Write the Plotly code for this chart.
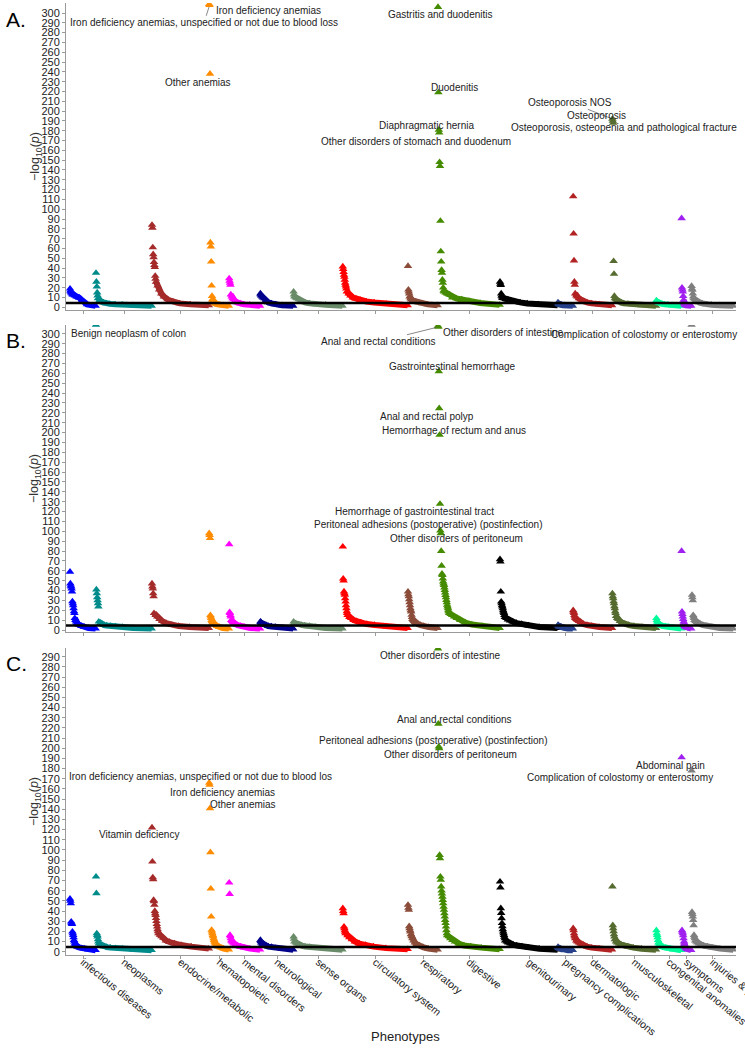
import plotly.graph_objects as go

# ---------------- data ----------------
categories = ["infectious diseases", "neoplasms", "endocrine/metabolic", "hematopoietic",
              "mental disorders", "neurological", "sense organs", "circulatory system",
              "respiratory", "digestive", "genitourinary", "pregnancy complications",
              "dermatologic", "musculoskeletal", "congenital anomalies", "symptoms",
              "injuries & poisonings"]
cat_colors = ["#0000FF", "#008B8B", "#A52A2A", "#FF8C00", "#FF00FF", "#00008B", "#698B69",
              "#FF0000", "#8B4C39", "#458B00", "#000000", "#27408B", "#B22222", "#556B2F",
              "#00FA9A", "#A020F0", "#7F7F7F"]
# number of phenotypes per category (x extent)
cat_sizes = [65, 140, 143, 50, 78, 83, 123, 163, 75, 155, 145, 38, 98, 110, 63, 25, 105]

# sorted -log10(p) of the top phenotypes per category, panel A
a_peaks = [
    [19, 17, 16],
    [35, 26, 21, 15, 12],
    [84, 81, 61, 54, 51, 46, 43, 41, 32, 29],
    [309, 308, 238, 66, 62, 46.5, 22, 11.5],
    [29.5, 27, 25, 23],
    [14, 13],
    [16, 13],
    [41.5, 39, 36, 33, 31, 28, 25, 23, 21, 19],
    [42, 18, 16, 14],
    [306, 219, 181, 178, 148, 144, 88, 57, 46.5, 38, 35, 28, 25, 20, 17],
    [26, 24, 22.7, 14, 12, 11],
    [5],
    [113, 75, 47.6, 26, 23],
    [192, 190, 188, 47, 34, 11.5],
    [7],
    [90.7, 20, 18, 16, 11.5],
    [21.7, 19, 17.7, 14, 11],
]
# remaining (tail) phenotypes, read at a fixed set of fractions through each category
a_tails = [
    [15, 14, 13, 13, 12, 11, 10, 7, 3, 1.5],
    [9, 7, 6, 5, 4, 3.5, 3, 2.5, 2, 1.5],
    [26, 22, 18, 14, 11, 8, 6, 4, 3, 2],
    [8, 7, 6, 5, 4, 3.5, 3, 2.5, 2, 1.5],
    [13, 11, 9, 8, 6, 5, 4, 3, 2.5, 1.5],
    [12, 11, 10, 9, 7, 5, 4, 3, 2, 1.5],
    [11, 10, 9, 8, 6, 5, 4, 3, 2.5, 1.5],
    [16, 14, 12, 10, 9, 7.5, 6, 5, 3.5, 2],
    [11, 9, 8, 7, 6.5, 6, 5, 4, 3, 2],
    [16, 15, 14, 13, 10, 9, 8, 6.5, 4.5, 2.5],
    [9.5, 9, 8.5, 8, 7, 6, 5, 4, 3, 2],
    [4, 3.5, 3, 3, 2.5, 2.5, 2, 2, 1.5, 1.5],
    [14, 12, 11, 9, 8, 6, 5, 4, 3, 2],
    [9, 8, 7, 6, 5, 4, 3.5, 3, 2, 1.5],
    [6, 5.5, 5, 4.5, 4, 3.5, 3, 2.5, 2, 1.5],
    [7.5, 6, 5, 4, 3, 2.5, 2, 2, 1.5, 1.5],
    [9, 8, 7, 6, 5, 4, 3, 2.5, 2, 1.5],
]

b_peaks = [
    [59, 47, 45, 44, 42, 39, 29, 27, 25, 22, 19, 17],
    [309, 41, 37, 33, 30, 27, 23.6],
    [47, 44, 42, 37, 34],
    [98, 96, 93, 15, 13.5, 12],
    [86.8, 18, 17, 15, 13.5],
    [8.4, 8],
    [8.4],
    [84.4, 52, 50, 39, 37, 35.5, 32, 28.7, 25, 22, 19, 17],
    [38.8, 36, 34, 31, 28, 25, 22, 20, 18.6, 15.3, 13],
    [308, 307, 262, 224.6, 197.6, 127.7, 100.6, 98, 80, 65, 57, 55.7, 52, 49, 47, 45.5,
     43, 40.5, 38, 35.4, 33, 30.4, 28, 25.4, 23.6, 22, 20, 18.6],
    [71.6, 69.2, 38.8, 28.7, 27, 25, 23.6, 22, 20, 18.5, 17, 15],
    [5],
    [20, 18.5, 17, 15, 13.5],
    [37, 34, 32, 29, 27, 24, 22, 19, 17],
    [12, 10, 8.4],
    [80, 18.6, 16, 13.5, 11],
    [309, 35.5, 33, 30, 15, 13.5, 12],
]
b_tails = [
    [12, 10, 8.4, 7, 6, 5, 4, 3, 2, 1.5],
    [8.4, 7, 6, 5, 4.5, 4, 3.5, 3, 2, 1.5],
    [17, 15, 13.5, 11, 9, 7, 5, 4, 3, 2],
    [10, 9, 8, 7, 6, 5, 4, 3, 2, 1.5],
    [10, 9, 8, 7, 6, 5, 4, 3, 2, 1.5],
    [7, 6.5, 6, 5.5, 5, 4, 3.5, 3, 2, 1.5],
    [7, 6.5, 6, 5.5, 5, 4.5, 4, 3, 2, 1.5],
    [15, 13, 12, 10, 9, 7.5, 6, 5, 3.5, 2],
    [11, 10, 9, 8, 7, 6, 5, 4, 3, 2],
    [17, 16, 15, 13.5, 12, 10, 7.5, 5.5, 4, 2],
    [13, 12, 10.5, 9.5, 8.5, 7, 6, 4.5, 3, 2],
    [4.5, 4, 3.5, 3.5, 3, 3, 2.5, 2, 1.5, 1.5],
    [12, 11, 10, 9, 8, 6, 5, 4, 3, 2],
    [14, 12, 11, 9, 7.5, 6, 5, 4, 3, 2],
    [7, 6, 5.5, 5, 4.5, 4, 3.5, 3, 2, 1.5],
    [8.4, 7, 6, 5, 4, 3.5, 3, 2.5, 2, 1.5],
    [10, 9, 8, 7, 6, 5, 4, 3, 2, 1.5],
]

c_peaks = [
    [52, 50, 47.5, 29.5, 28, 27, 19.7, 18, 16.4, 14, 11.5, 10, 8],
    [73.7, 57.4, 18, 16.4, 14.7, 12, 9.8],
    [122, 88.5, 73, 71, 50.8, 49.5, 46, 40, 37.7, 36, 33, 30, 27, 24.6, 22, 20],
    [166, 164, 141, 97.7, 62, 34.4, 21.4, 19.7, 18, 16.4, 15, 13],
    [67.8, 56.7, 16.4, 15, 13],
    [11.5, 10.5],
    [14.7, 12.5],
    [42.6, 40, 37.7, 24.6, 23, 21, 19.5],
    [46, 43, 41, 25, 23, 21, 19.7],
    [298, 224, 201.6, 200, 95, 91.8, 73.7, 70.5, 64, 60, 57, 54, 50.8, 47.5, 44, 41,
     37.7, 34.4, 31, 28, 24.6, 21, 18],
    [68.8, 63, 42.6, 38, 32.8, 28, 25, 22, 19.7, 18, 16.4, 14.5, 13],
    [4.5],
    [23, 21, 18, 16, 14.7],
    [64, 26, 23, 20, 17, 14.7],
    [21, 18, 16.4, 14, 11.5],
    [191, 21, 19.5, 18, 16, 13],
    [178, 39, 37, 34.4, 31, 26, 16.4, 14.5, 13],
]
c_tails = [
    [7, 6, 5.5, 5, 4.5, 4, 3.5, 3, 2, 1.5],
    [8, 7, 6, 5, 4.5, 4, 3.5, 3, 2, 1.5],
    [18, 16.5, 15, 13.5, 11, 9.5, 8, 6.5, 5, 3],
    [11.5, 10, 9, 8, 7, 6, 5, 4, 3, 2],
    [11, 10, 9, 8, 7, 6, 5, 4, 3, 2],
    [9, 8, 7.5, 7, 6, 5, 4.5, 3.5, 2.5, 2],
    [10, 9, 8, 7, 6, 5, 4.5, 3.5, 2.5, 2],
    [18, 16, 14, 12, 10, 8, 6.5, 5, 3.5, 2.5],
    [17, 15, 13, 11, 9, 7.5, 6, 4.5, 3, 2],
    [16, 15, 13, 11.5, 10, 8, 6, 5, 4, 2.5],
    [11, 10, 9, 8, 7, 6, 5, 4, 3, 2],
    [4, 3.5, 3.5, 3, 3, 2.5, 2.5, 2, 1.5, 1.5],
    [13, 11, 10, 9, 8, 6.5, 5, 4, 3, 2],
    [12, 10, 9, 8, 7, 6, 5, 4, 3, 2],
    [9, 8, 7, 6, 5, 4.5, 4, 3, 2, 1.5],
    [10, 8, 7, 6, 5, 4, 3, 2.5, 2, 1.5],
    [11, 10, 9, 8, 7, 6, 5, 4, 3, 2],
]

sig_threshold = 4.5  # Bonferroni line, -log10(0.05 / n)

# labelled phenotypes
a_labels = ["Iron deficiency anemias", "Iron deficiency anemias, unspecified or not due to blood loss",
            "Other anemias", "Gastritis and duodenitis", "Duodenitis", "Diaphragmatic hernia",
            "Other disorders of stomach and duodenum", "Osteoporosis NOS", "Osteoporosis",
            "Osteoporosis, osteopenia and pathological fracture"]
b_labels = ["Benign neoplasm of colon", "Anal and rectal conditions", "Other disorders of intestine",
            "Complication of colostomy or enterostomy", "Gastrointestinal hemorrhage",
            "Anal and rectal polyp", "Hemorrhage of rectum and anus",
            "Hemorrhage of gastrointestinal tract", "Peritoneal adhesions (postoperative) (postinfection)",
            "Other disorders of peritoneum"]
c_labels = ["Other disorders of intestine", "Anal and rectal conditions",
            "Peritoneal adhesions (postoperative) (postinfection)", "Other disorders of peritoneum",
            "Abdominal pain", "Complication of colostomy or enterostomy",
            "Iron deficiency anemias, unspecified or not due to blood los", "Iron deficiency anemias",
            "Other anemias", "Vitamin deficiency"]

# ---------------- layout helpers (positions / styles) ----------------
TAIL_FRACS = [0, 0.03, 0.06, 0.1, 0.15, 0.22, 0.32, 0.45, 0.65, 1.0]
# label text positions in data units (x = phenotype index, y = -log10 p)
a_label_pos = [(495, 303), (335, 290), (320, 229.6), (925, 298), (960, 224.5), (890, 185),
               (865, 169.5), (1250, 209), (1317, 196), (1385, 183)]
b_label_pos = [(147, 300), (772, 292), (1082, 301), (1435, 299), (957, 266.5), (892, 216),
               (960, 202.6), (860, 119.6), (895, 106.4), (965, 92.2)]
c_label_pos = [(925, 291.7), (960, 228), (907, 208), (950, 193.4), (1500, 182.6), (1375, 171),
               (327, 171.8), (382, 157), (432, 145.2), (172, 114.8)]
# labels with a leader segment: label index -> (category index, rank)
a_segments = {1: (3, 1), 7: (13, 0)}
b_segments = {1: (9, 1)}
c_segments = {}

starts = []
acc = 0
for s in cat_sizes:
    starts.append(acc)
    acc += s
mids = [st + s / 2 for st, s in zip(starts, cat_sizes)]

FONT = "Liberation Sans, Arial, sans-serif"
fig = go.Figure()

panels = [("", a_peaks, a_tails), ("2", b_peaks, b_tails), ("3", c_peaks, c_tails)]
for suf, peaks, tails in panels:
    xa, ya = "x" + suf, "y" + suf
    for k in range(len(categories)):
        n = len(peaks[k])
        st = starts[k]
        size = cat_sizes[k]
        tx = [st + n + f * (size - n - 1) for f in TAIL_FRACS]
        fig.add_trace(go.Scatter(x=tx, y=tails[k], mode="lines+markers", xaxis=xa, yaxis=ya,
                                 line=dict(color=cat_colors[k], width=6),
                                 marker=dict(symbol="triangle-up", size=7.5, color=cat_colors[k]),
                                 hoverinfo="skip", showlegend=False))
        fig.add_trace(go.Scatter(x=[st + i for i in range(n)], y=peaks[k], mode="markers",
                                 xaxis=xa, yaxis=ya, name=categories[k],
                                 marker=dict(symbol="triangle-up", size=7.5, color=cat_colors[k]),
                                 showlegend=False))

xcommon = dict(range=[-10, 1665], showline=True, linecolor="#9a9a9a", linewidth=1,
               ticks="outside", ticklen=3, tickcolor="#9a9a9a", tickvals=mids,
               showgrid=False, zeroline=False, automargin=False)
ycommon = dict(showline=True, linecolor="#9a9a9a", linewidth=1, ticks="outside", ticklen=3,
               tickcolor="#9a9a9a", showgrid=False, zeroline=False, automargin=False,
               tickfont=dict(size=11, color="#222", family=FONT))

fig.update_layout(
    width=745, height=1054,
    margin=dict(l=66, r=9, t=3, b=99),
    paper_bgcolor="white", plot_bgcolor="white",
    font=dict(family=FONT, color="#222"),
    xaxis=dict(xcommon, anchor="y", showticklabels=False),
    xaxis2=dict(xcommon, anchor="y2", showticklabels=False),
    xaxis3=dict(xcommon, anchor="y3", ticktext=categories, tickangle=39,
                ticklabeloverflow="allow", ticklabelstandoff=-7,
                tickfont=dict(size=10.5, color="#222", family=FONT)),
    yaxis=dict(ycommon, anchor="x", domain=[0.6775, 1.0], range=[-2.75, 310.2],
               tickvals=list(range(0, 301, 10))),
    yaxis2=dict(ycommon, anchor="x2", domain=[0.3393, 0.6618], range=[-2.0, 309],
                tickvals=list(range(0, 301, 10))),
    yaxis3=dict(ycommon, anchor="x3", domain=[0, 0.3225], range=[-3.25, 298.6],
                tickvals=list(range(0, 291, 10))),
)

shapes = []
for suf in ["", "2", "3"]:
    shapes.append(dict(type="line", xref="x" + suf + " domain", yref="y" + suf, x0=0, x1=1,
                       y0=sig_threshold, y1=sig_threshold, layer="above",
                       line=dict(color="black", width=2.5)))
fig.update_layout(shapes=shapes)

annotations = []
for suf, peaks, labels, pos, segs in [("", a_peaks, a_labels, a_label_pos, a_segments),
                                      ("2", b_peaks, b_labels, b_label_pos, b_segments),
                                      ("3", c_peaks, c_labels, c_label_pos, c_segments)]:
    for i, txt in enumerate(labels):
        tx, ty = pos[i]
        if i in segs:
            k, r = segs[i]
            annotations.append(dict(text=txt, x=starts[k] + r, y=peaks[k][r], ax=tx, ay=ty,
                                    xref="x" + suf, yref="y" + suf, axref="x" + suf, ayref="y" + suf,
                                    showarrow=True, arrowhead=0, arrowwidth=0.7, arrowcolor="#555",
                                    standoff=2, font=dict(size=10, color="#222", family=FONT)))
        else:
            annotations.append(dict(text=txt, x=tx, y=ty, xref="x" + suf, yref="y" + suf,
                                    showarrow=False, font=dict(size=10, color="#222", family=FONT)))

for letter, yp in [("A.", 0.983), ("B.", 0.646), ("C.", 0.3067)]:
    annotations.append(dict(text=letter, x=-0.092, y=yp, xref="paper", yref="paper",
                            xanchor="left", yanchor="middle", showarrow=False,
                            font=dict(size=21, color="black", family=FONT)))
# y-axis titles, one per panel (centred on each panel)
for yp in [(0.6775 + 1.0) / 2, (0.3393 + 0.6618) / 2, 0.3225 / 2]:
    annotations.append(dict(text="\u2212log<sub>10</sub>(<i>p</i>)", x=-0.0455, y=yp,
                            xref="paper", yref="paper", textangle=-90, showarrow=False,
                            xanchor="center", yanchor="middle",
                            font=dict(size=12.5, color="#333", family=FONT)))
annotations.append(dict(text="Phenotypes", x=0.506, y=-0.0861, xref="paper", yref="paper",
                        showarrow=False, xanchor="center", yanchor="middle",
                        font=dict(size=13, color="#222", family=FONT)))
fig.update_layout(annotations=annotations)

fig.write_html("out.html", config={"displayModeBar": False},
               post_script="document.body.style.margin='0';")
